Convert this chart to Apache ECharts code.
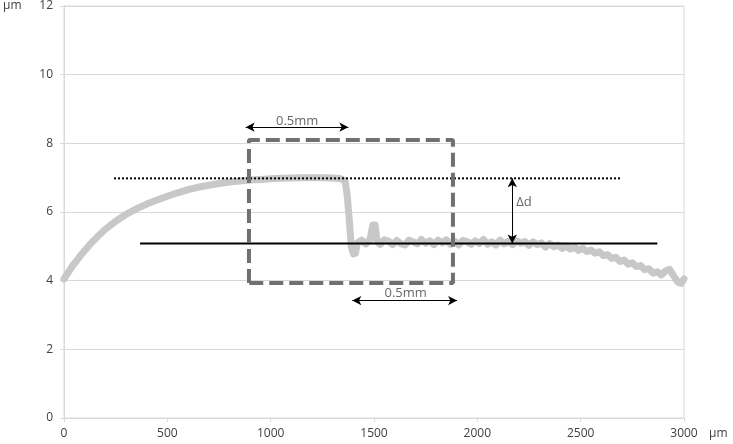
<!DOCTYPE html>
<html>
<head>
<meta charset="utf-8">
<script src="https://cdn.jsdelivr.net/npm/echarts@6/dist/echarts.min.js"></script>
<style>
  html, body { margin: 0; padding: 0; background: #fff; }
  #main { width: 733px; height: 444px; }
</style>
</head>
<body>
<div id="main"></div>
<script>
  // profile (x in µm, height in µm)
  var profileX = [0, 40, 80, 120, 160, 200, 250, 300, 350, 400, 450, 500, 550, 600, 650, 700, 750, 800, 850, 900,
    950, 1000, 1050, 1100, 1150, 1200, 1250, 1300, 1340, 1360, 1370, 1380, 1390, 1400, 1410, 1420, 1440, 1460, 1480,
    1495, 1505, 1515, 1530, 1550, 1570, 1590, 1610, 1630, 1650, 1670, 1690, 1710, 1730, 1750, 1770, 1790, 1810, 1830,
    1850, 1870, 1890, 1910, 1930, 1950, 1970, 1990, 2010, 2030, 2050, 2070, 2090, 2110, 2130, 2150, 2170, 2190, 2210,
    2230, 2250, 2270, 2290, 2310, 2330, 2350, 2370, 2390, 2410, 2430, 2450, 2470, 2490, 2510, 2530, 2550, 2570, 2590,
    2610, 2630, 2650, 2670, 2690, 2710, 2730, 2750, 2770, 2790, 2810, 2830, 2850, 2870, 2890, 2910, 2930, 2950, 2970,
    2985, 3000]
  var profileY = [4.05, 4.42, 4.73, 5.02, 5.27, 5.5, 5.73, 5.93, 6.09, 6.23, 6.35, 6.46, 6.56, 6.65, 6.72, 6.78, 6.83,
    6.87, 6.9, 6.93, 6.95, 6.97, 6.98, 6.99, 7.0, 7.0, 7.0, 6.99, 6.97, 6.9, 6.5, 5.8, 5.0, 4.78, 4.8,
    5.1, 5.18, 5.07, 5.19, 5.62, 5.62, 5.14, 5.06, 5.19, 5.15, 5.05, 5.17, 5.08, 5.04, 5.18, 5.13, 5.07, 5.2, 5.09,
    5.16, 5.05, 5.18, 5.1, 5.19, 5.06, 5.15, 5.04, 5.17, 5.14, 5.06, 5.16, 5.08, 5.2, 5.06, 5.13, 5.04, 5.18, 5.07,
    5.15, 5.05, 5.16, 5.09, 5.14, 5.03, 5.13, 5.05, 5.1, 4.98, 5.08, 4.99, 5.04, 4.94, 5.01, 4.92, 4.98, 4.88, 4.94,
    4.85, 4.89, 4.8, 4.84, 4.73, 4.76, 4.65, 4.68, 4.56, 4.6, 4.48, 4.52, 4.41, 4.44, 4.32, 4.35, 4.22, 4.26, 4.17,
    4.28, 4.33, 4.14, 3.96, 3.92, 4.05]

  // reference lines
  var topLevelX = [242, 2700]
  var topLevel = 6.98
  var baseLevelX = [368, 2871]
  var baseLevel = 5.08
  var boxX = [895, 1882]
  var boxY = [3.93, 8.1]

  // dimension arrows: [x1, y1, x2, y2]
  var arrowTop = [879, 8.47, 1376, 8.47]
  var arrowBottom = [1395, 3.42, 1902, 3.42]
  var arrowDelta = [2169, 6.98, 2169, 5.08]

  // annotation texts: [x, y, text]
  var notes = [
    [1128, 8.63, '0.5mm'],
    [1653, 3.62, '0.5mm'],
    [2226, 6.27, 'Δd'],
  ]

  var xTicks = [0, 500, 1000, 1500, 2000, 2500, 3000]
  var yTicks = [0, 2, 4, 6, 8, 10, 12]

  var gridColor = '#d9d9d9'
  var textColor = '#404040'
  var font = 'Open Sans'

  var myChart = echarts.init(document.getElementById('main'))

  var profile = profileX.map(function (x, i) {
    return [x, profileY[i]]
  })

  function arrowLine(a) {
    return [{ coord: [a[0], a[1]] }, { coord: [a[2], a[3]] }]
  }

  var option = {
    animation: false,
    grid: {
      left: 64,
      right: 49,
      top: 6,
      bottom: 26,
      show: true,
      borderColor: gridColor,
      borderWidth: 1,
    },
    xAxis: {
      type: 'value',
      min: xTicks[0],
      max: xTicks[xTicks.length - 1],
      interval: 500,
      axisLine: { show: true, lineStyle: { color: gridColor } },
      axisTick: { show: true, length: 4, lineStyle: { color: gridColor } },
      axisLabel: {
        color: textColor,
        fontSize: 12,
        fontFamily: font,
        margin: 10,
        formatter: function (v) {
          return String(v)
        },
      },
      splitLine: { show: false },
    },
    yAxis: {
      type: 'value',
      min: yTicks[0],
      max: yTicks[yTicks.length - 1],
      interval: 2,
      axisLine: { show: true, lineStyle: { color: gridColor } },
      axisTick: { show: true, length: 4, lineStyle: { color: gridColor } },
      axisLabel: { color: textColor, fontSize: 12, fontFamily: font, margin: 11 },
      splitLine: { show: true, lineStyle: { color: gridColor } },
    },
    graphic: [
      { type: 'text', left: 3, top: 0, style: { text: 'µm', fill: textColor, font: '12px ' + font } },
      { type: 'text', left: 709, top: 428, style: { text: 'µm', fill: textColor, font: '12px ' + font } },
    ],
    series: [
      {
        name: 'profile',
        type: 'line',
        data: profile,
        showSymbol: false,
        symbol: 'none',
        lineStyle: { color: '#c8c8c8', width: 7, join: 'round', cap: 'round' },
        z: 1,
      },
      {
        name: 'top level',
        type: 'line',
        data: [[topLevelX[0], topLevel], [topLevelX[1], topLevel]],
        symbol: 'none',
        lineStyle: { color: '#000', width: 2, type: [2, 2] },
        z: 2,
      },
      {
        name: 'base level',
        type: 'line',
        data: [[baseLevelX[0], baseLevel], [baseLevelX[1], baseLevel]],
        symbol: 'none',
        lineStyle: { color: '#000', width: 2 },
        z: 2,
      },
      {
        name: 'window',
        type: 'line',
        data: [
          [boxX[0], boxY[0]],
          [boxX[0], boxY[1]],
          [boxX[1], boxY[1]],
          [boxX[1], boxY[0]],
          [boxX[0], boxY[0]],
        ],
        symbol: 'none',
        lineStyle: { color: '#707070', width: 4, type: [14, 6] },
        z: 3,
        markLine: {
          silent: true,
          symbol: ['arrow', 'arrow'],
          symbolSize: [7, 9],
          label: { show: false },
          lineStyle: { color: '#000', width: 1, type: 'solid' },
          data: [arrowLine(arrowTop), arrowLine(arrowBottom), arrowLine(arrowDelta)],
        },
      },
      {
        name: 'notes',
        type: 'scatter',
        symbolSize: 0,
        data: notes.map(function (n) {
          return { value: [n[0], n[1]], name: n[2] }
        }),
        label: {
          show: true,
          position: 'inside',
          formatter: '{b}',
          color: textColor,
          fontSize: 13,
          fontFamily: font,
        },
        z: 4,
      },
    ],
  }

  myChart.setOption(option)
</script>
</body>
</html>
